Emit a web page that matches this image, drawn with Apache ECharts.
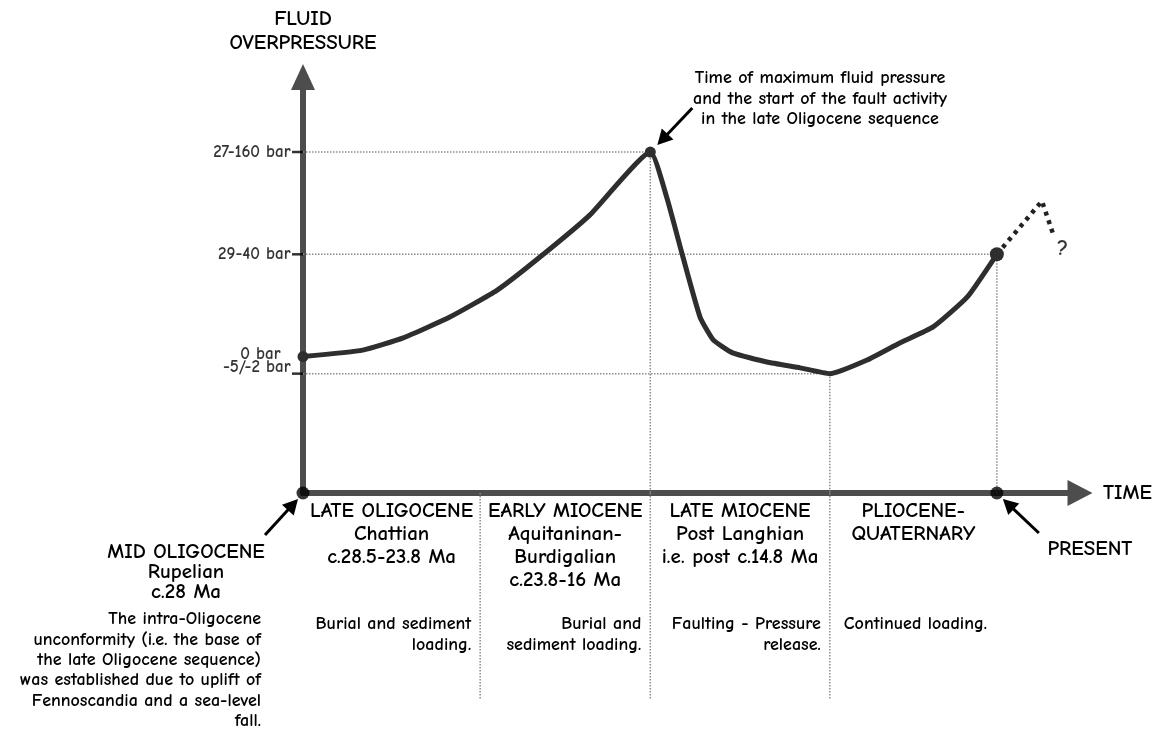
<!DOCTYPE html>
<html><head><meta charset="utf-8">
<script src="https://cdn.jsdelivr.net/npm/echarts@6/dist/echarts.min.js"></script>
<style>html,body{margin:0;padding:0;background:#fff}#c{width:1162px;height:738px}</style>
</head><body><div id="c"></div>
<script>
// ---------------- DATA ----------------
// Schematic time axis: 0 = mid-Oligocene unconformity, 100 = end of TIME arrow
const curveX = [0, 7.7, 12.9, 18.9, 25.0, 30.5, 36.9, 44.7, 46.8, 48.9, 51.1, 52.8, 55.3, 59.7, 64.0, 67.8, 72.6, 76.8, 81.1, 85.5, 89.3];
// Schematic overpressure level (27-160 bar = 100, 29-40 bar = 70, 0 bar = 40, -5/-2 bar = 35)
const curveY = [40, 41.9, 45.5, 51.6, 59.5, 69.2, 81.5, 100, 86.8, 69.2, 51.6, 44.9, 41.1, 38.4, 36.7, 35, 39.0, 44.0, 48.7, 57.5, 70];
const markerIndex = [0, 7, 20];
const futureX = [89.3, 95.1, 96.5];
const futureY = [70, 85.6, 76.2];
const futureMark = '?';
const yTickValues = [100, 70, 40, 35];
const yTickLabels = ['27-160 bar', '29-40 bar', '0 bar', '-5/-2 bar'];
const yTickMarked = [100, 70, 35];
// guide points: [x, y] -> dotted line to y axis and to x axis
const guidePoints = [[44.7, 100], [67.8, 35], [89.3, 70]];
const boundaryX = [0, 22.8, 44.7, 67.8, 89.3];
const separatorX = [22.8, 44.7, 67.8];
const originX = 0, presentX = 89.3;
const colHeads = [
  ['LATE OLIGOCENE', 'Chattian', 'c.28.5-23.8 Ma'],
  ['EARLY MIOCENE', 'Aquitaninan-', 'Burdigalian', 'c.23.8-16 Ma'],
  ['LATE MIOCENE', 'Post Langhian', 'i.e. post c.14.8 Ma'],
  ['PLIOCENE-', 'QUATERNARY']
];
const colNotes = [
  ['Burial and sediment', 'loading.'],
  ['Burial and', 'sediment loading.'],
  ['Faulting - Pressure', 'release.'],
  ['Continued loading.']
];
const midHead = ['MID OLIGOCENE', 'Rupelian', 'c.28 Ma'];
const midNote = ['The intra-Oligocene', 'unconformity (i.e. the base of', 'the late Oligocene sequence)', 'was established due to uplift of', 'Fennoscandia and a sea-level', 'fall.'];
const peakNote = ['Time of maximum fluid pressure', 'and the start of the fault activity', 'in the late Oligocene sequence'];
const presentText = 'PRESENT';
const yName = 'FLUID\nOVERPRESSURE';
const xName = 'TIME';

// ---------------- STYLE ----------------
const FONT = "'Comic Sans MS','Comic Neue','DejaVu Sans',sans-serif";
const AXIS_C = '#4d4d4d';
const LINE_C = '#2e2e2e';
const GUIDE_C = '#8c8c8c';
const HEAD_SIZE = 21, BODY_SIZE = 18, W = 'bold';

const chart = echarts.init(document.getElementById('c'));

const guideSeries = [];
guidePoints.forEach(p => {
  guideSeries.push({type: 'line', xAxisIndex: 0, yAxisIndex: 0, data: [[0, p[1]], p], showSymbol: false, silent: true,
    lineStyle: {color: GUIDE_C, width: 1.5, type: 'dotted'}, z: 1});
  guideSeries.push({type: 'line', xAxisIndex: 0, yAxisIndex: 0, data: [p, [p[0], 0]], showSymbol: false, silent: true,
    lineStyle: {color: GUIDE_C, width: 1.5, type: 'dotted'}, z: 1});
});
separatorX.forEach(x => {
  guideSeries.push({type: 'line', xAxisIndex: 1, yAxisIndex: 1, data: [[x, 0], [x, -60]], showSymbol: false, silent: true,
    lineStyle: {color: GUIDE_C, width: 1.5, type: 'dotted'}, z: 1});
});

const curveData = curveX.map((x, i) => {
  const m = markerIndex.indexOf(i);
  return {value: [x, curveY[i]], symbol: m >= 0 ? 'circle' : 'none', symbolSize: m === 2 ? 14 : 11};
});
const futureData = futureX.map((x, i) => [x, futureY[i]]);
const lastF = futureData[futureData.length - 1];

// y-axis level labels (placed through the axis scale)
const labelShift = {40: {distance: 22, offset: [0, -2]}, 35: {distance: 12, offset: [0, -6]}};
const yLabelData = yTickValues.map((v, i) => ({
  value: [0, v],
  label: {show: true, formatter: yTickLabels[i], position: 'left',
    distance: (labelShift[v] || {}).distance || 12, offset: (labelShift[v] || {}).offset || [0, 0],
    fontFamily: FONT, fontSize: BODY_SIZE - 1, fontWeight: W, color: '#000'}
}));
const yTickData = yTickMarked.map(v => [0, v]);

const option = {
  animation: false,
  backgroundColor: '#fff',
  grid: [
    {left: 303, top: 77, width: 777, height: 416, containLabel: false},
    {left: 303, top: 493, width: 777, height: 207, containLabel: false}
  ],
  xAxis: [
    {gridIndex: 0, type: 'value', min: 0, max: 100,
      name: xName, nameLocation: 'end', nameGap: 23,
      nameTextStyle: {fontFamily: FONT, fontSize: HEAD_SIZE, fontWeight: W, color: '#000', verticalAlign: 'middle'},
      axisLine: {show: true, symbol: ['none', 'triangle'], symbolSize: [26, 25], lineStyle: {color: AXIS_C, width: 6}},
      axisTick: {show: false}, axisLabel: {show: false}, splitLine: {show: false}},
    {gridIndex: 1, type: 'value', min: 0, max: 100, show: false}
  ],
  yAxis: [
    {gridIndex: 0, type: 'value', min: 0, max: 122,
      name: yName, nameLocation: 'end', nameGap: 22,
      nameTextStyle: {fontFamily: FONT, fontSize: HEAD_SIZE, fontWeight: W, lineHeight: 24, color: '#000', align: 'center', verticalAlign: 'bottom'},
      axisLine: {show: true, symbol: ['none', 'triangle'], symbolSize: [24, 26], lineStyle: {color: AXIS_C, width: 6}},
      axisTick: {show: false}, axisLabel: {show: false}, splitLine: {show: false}},
    {gridIndex: 1, type: 'value', min: -60, max: 0, show: false}
  ],
  series: guideSeries.concat([
    {type: 'scatter', xAxisIndex: 0, yAxisIndex: 0, data: yTickData, symbol: 'rect', symbolSize: [11, 2.5], symbolOffset: [-5.5, 0],
      itemStyle: {color: '#000'}, clip: false, silent: true, z: 3},
    {type: 'scatter', xAxisIndex: 0, yAxisIndex: 0, data: yLabelData, symbolSize: 1,
      itemStyle: {color: 'rgba(0,0,0,0)'}, clip: false, silent: true, z: 3},
    {type: 'line', xAxisIndex: 0, yAxisIndex: 0, data: curveData, smooth: 0.15,
      lineStyle: {color: LINE_C, width: 5, join: 'round'}, itemStyle: {color: LINE_C}, z: 4},
    {type: 'line', xAxisIndex: 0, yAxisIndex: 0, data: futureData, showSymbol: false, symbol: 'none',
      lineStyle: {color: '#222', width: 4.5, type: [4, 5]}, z: 3},
    {type: 'scatter', xAxisIndex: 0, yAxisIndex: 0, data: [lastF], symbolSize: 1, itemStyle: {color: 'rgba(0,0,0,0)'},
      label: {show: true, formatter: futureMark, position: 'right', distance: 4, offset: [0, 16],
        fontSize: 22, fontFamily: FONT, fontWeight: 'bold', color: '#000'}, clip: false, silent: true, z: 3},
    {type: 'scatter', xAxisIndex: 0, yAxisIndex: 0, data: [[originX, 0], [presentX, 0]], symbolSize: 13,
      itemStyle: {color: '#000'}, clip: false, z: 6}
  ])
};
chart.setOption(option);

// ---------------- ANNOTATIONS ----------------
const px = (x, y) => chart.convertToPixel({gridIndex: 0}, [x, y]);
function txt(lines, x, y, align, size, lh) {
  return {type: 'text', x: x, y: y, silent: true, z: 10,
    style: {text: lines.join('\n'), align: align, verticalAlign: 'top', fontFamily: FONT, fontSize: size,
      lineHeight: lh, fill: '#000', fontWeight: W}};
}
function arrow(tail, tip) {
  const dx = tip[0] - tail[0], dy = tip[1] - tail[1];
  const len = Math.sqrt(dx * dx + dy * dy), ux = dx / len, uy = dy / len;
  const hl = 15, hw = 8;
  const bx = tip[0] - ux * hl, by = tip[1] - uy * hl;
  return [
    {type: 'line', silent: true, z: 10, shape: {x1: tail[0], y1: tail[1], x2: bx + ux * 2, y2: by + uy * 2}, style: {stroke: '#000', lineWidth: 3}},
    {type: 'polygon', silent: true, z: 10, shape: {points: [tip, [bx - uy * hw, by + ux * hw], [bx + uy * hw, by - ux * hw]]}, style: {fill: '#000'}}
  ];
}
const g = [];
const axisY = px(0, 0)[1];
for (let i = 0; i < colHeads.length; i++) {
  const l = px(boundaryX[i], 0)[0], r = px(boundaryX[i + 1], 0)[0];
  g.push(txt(colHeads[i], (l + r) / 2, axisY + 7, 'center', HEAD_SIZE, 23));
  if (i < 3) g.push(txt(colNotes[i], r - 9, axisY + 121, 'right', BODY_SIZE, 20.5));
  else g.push(txt(colNotes[i], l + 14, axisY + 121, 'left', BODY_SIZE, 20.5));
}
const o = px(originX, 0), pr = px(presentX, 0);
g.push(txt(midHead, 186, axisY + 49, 'center', HEAD_SIZE, 20));
g.push(txt(midNote, 261, axisY + 116, 'right', BODY_SIZE, 20.4));
g.push(txt([presentText], pr[0] + 93, axisY + 45, 'center', HEAD_SIZE, 22));
const peak = px(guidePoints[0][0], guidePoints[0][1]);
g.push(txt(peakNote, 820, 68, 'center', BODY_SIZE, 20.5));
arrow([peak[0] + 42, peak[1] - 44], [peak[0] + 7, peak[1] - 7]).forEach(e => g.push(e));
arrow([o[0] - 38, o[1] + 42], [o[0] - 5, o[1] + 6]).forEach(e => g.push(e));
arrow([pr[0] + 42, pr[1] + 40], [pr[0] + 6, pr[1] + 6]).forEach(e => g.push(e));
chart.setOption({graphic: g});
</script></body></html>
